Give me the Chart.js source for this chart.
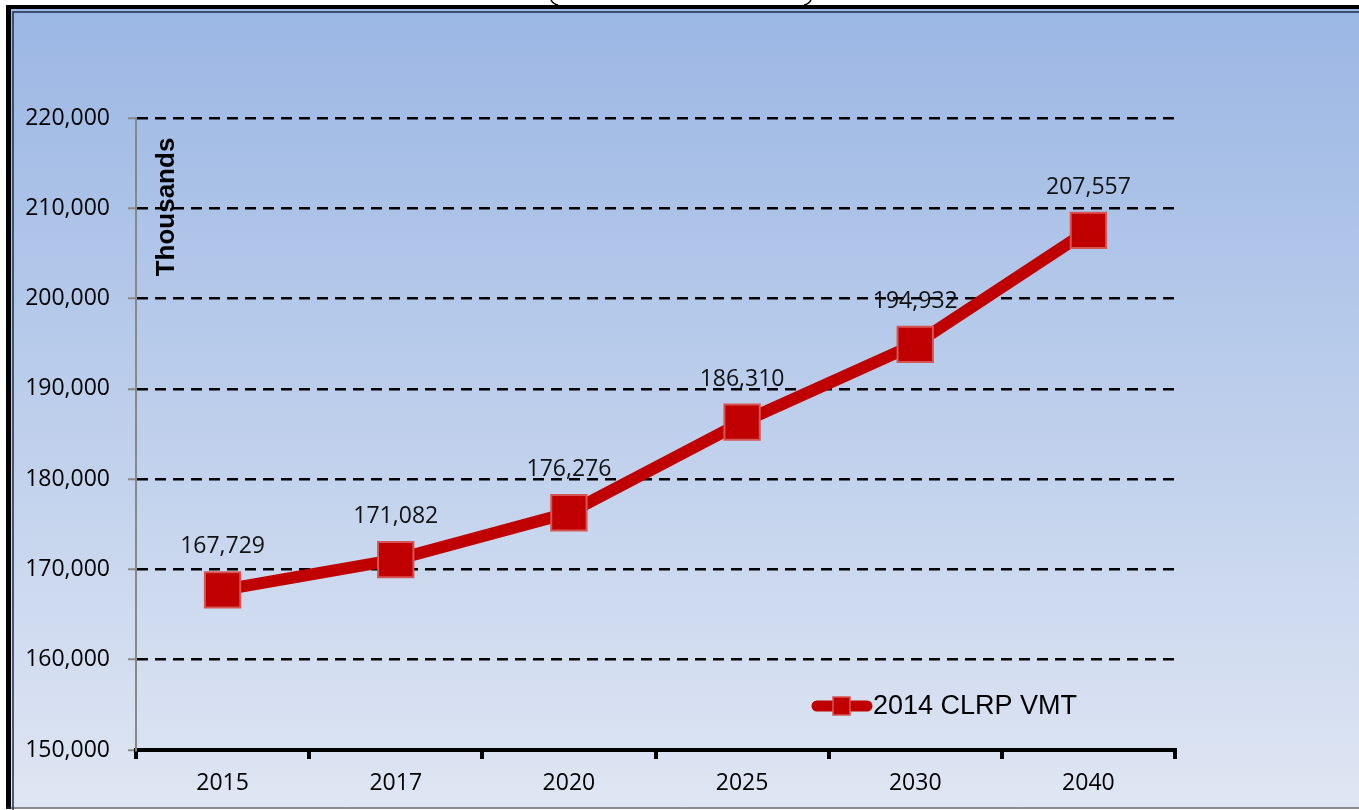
<!DOCTYPE html>
<html>
<head>
<meta charset="utf-8">
<script src="https://cdn.jsdelivr.net/npm/chart.js@4"></script>
<style>
  body { margin: 0; background: #fff; }
  canvas { display: block; }
</style>
</head>
<body>
<canvas id="vmtChart" width="1359" height="810"></canvas>
<script>
const years = ["2015", "2017", "2020", "2025", "2030", "2040"];
const vmt = [167729, 171082, 176276, 186310, 194932, 207557];
const seriesName = "2014 CLRP VMT";
const yMin = 150000;
const yMax = 220000;
const yStep = 10000;

const lineRed = "#c00000";
const labelFont = "'Open Sans', Lato, sans-serif";
const fmt = (v) => v.toLocaleString("en-US");

// gradient panel, frame and the bit of the title box peeking in at the top
const backdrop = {
  id: "backdrop",
  beforeDraw(chart) {
    const ctx = chart.ctx;
    const w = chart.width, h = chart.height;
    ctx.save();
    ctx.fillStyle = "#fff";
    ctx.fillRect(0, 0, w, h);
    const g = ctx.createLinearGradient(0, 12, 0, h);
    g.addColorStop(0, "#9bb7e4");
    g.addColorStop(1, "#dfe6f3");
    ctx.fillStyle = g;
    ctx.fillRect(7, 5, w - 7, h - 6);

    // outer black frame
    ctx.fillStyle = "#000";
    ctx.fillRect(7, 5, w - 7, 4);
    ctx.fillRect(6, 5, 5, h - 6);
    // thin inner line
    ctx.strokeStyle = "#1f2d4a";
    ctx.lineWidth = 1.5;
    ctx.beginPath();
    ctx.moveTo(13, h);
    ctx.lineTo(13, 12);
    ctx.lineTo(w, 12);
    ctx.stroke();
    ctx.beginPath();
    ctx.moveTo(6, h - 2);
    ctx.lineTo(w, h - 2);
    ctx.strokeStyle = "#333";
    ctx.lineWidth = 1;
    ctx.stroke();

    // title box corners
    ctx.strokeStyle = "#000";
    ctx.lineWidth = 1.5;
    ctx.beginPath();
    ctx.moveTo(551, 0);
    ctx.quadraticCurveTo(553, 4, 558, 5);
    ctx.moveTo(811, 0);
    ctx.quadraticCurveTo(809, 4, 804, 5);
    ctx.stroke();
    ctx.restore();
  }
};

// "Thousands", value labels and the legend inside the plot
const overlay = {
  id: "overlay",
  afterDraw(chart) {
    const ctx = chart.ctx;
    const area = chart.chartArea;
    ctx.save();

    ctx.translate(167, 207);
    ctx.rotate(-Math.PI / 2);
    ctx.font = "bold 26px 'Liberation Sans', Arial, sans-serif";
    ctx.fillStyle = "#000";
    ctx.textAlign = "center";
    ctx.textBaseline = "middle";
    ctx.fillText("Thousands", 0, 0);
    ctx.setTransform(1, 0, 0, 1, 0, 0);

    const meta = chart.getDatasetMeta(0);
    ctx.font = "23px " + labelFont;
    ctx.fillStyle = "#111";
    meta.data.forEach((pt, i) => {
      ctx.fillText(fmt(vmt[i]), pt.x, pt.y - 43);
    });

    // legend
    const ly = area.bottom - 44;
    ctx.strokeStyle = lineRed;
    ctx.lineWidth = 11;
    ctx.lineCap = "round";
    ctx.beginPath();
    ctx.moveTo(817, ly);
    ctx.lineTo(867, ly);
    ctx.stroke();
    ctx.fillStyle = lineRed;
    ctx.fillRect(833, ly - 9, 17, 18);
    ctx.strokeStyle = "#d65454";
    ctx.lineWidth = 1.5;
    ctx.strokeRect(833, ly - 9, 17, 18);
    ctx.fillStyle = "#000";
    ctx.textAlign = "left";
    ctx.font = "27px 'Liberation Sans', Arial, sans-serif";
    ctx.fillText(seriesName, 873, ly + 1);
    ctx.restore();
  }
};

new Chart(document.getElementById("vmtChart"), {
  type: "line",
  data: {
    labels: years,
    datasets: [{
      label: seriesName,
      data: vmt,
      borderColor: lineRed,
      borderWidth: 12,
      backgroundColor: lineRed,
      pointStyle: "rect",
      pointRadius: 25,
      pointBackgroundColor: lineRed,
      pointBorderColor: "#d65454",
      pointBorderWidth: 2,
      tension: 0
    }]
  },
  plugins: [backdrop, overlay],
  options: {
    responsive: false,
    animation: false,
    layout: { padding: { top: 118, right: 184, left: 0, bottom: 0 } },
    plugins: {
      legend: { display: false },
      tooltip: { enabled: false }
    },
    scales: {
      x: {
        offset: true,
        afterFit(scale) { scale.height = 60; },
        grid: {
          offset: true,
          drawOnChartArea: false,
          color: "#000",
          lineWidth: 4,
          tickLength: 9
        },
        border: { color: "#000", width: 4 },
        ticks: {
          color: "#000",
          padding: 11,
          font: { family: labelFont, size: 23 }
        }
      },
      y: {
        min: yMin,
        max: yMax,
        afterFit(scale) { scale.width = 136; },
        grid: {
          color: (c) => (c.tick && c.tick.value === yMin ? "rgba(0,0,0,0)" : "#000"),
          lineWidth: 2.5,
          tickColor: "#888",
          tickLength: 8,
          tickWidth: 2
        },
        border: { color: "#888", width: 2, dash: [11, 7] },
        ticks: {
          stepSize: yStep,
          color: "#000",
          padding: 18,
          callback: (v) => fmt(v),
          font: { family: labelFont, size: 23 }
        }
      }
    }
  }
});
</script>
</body>
</html>
